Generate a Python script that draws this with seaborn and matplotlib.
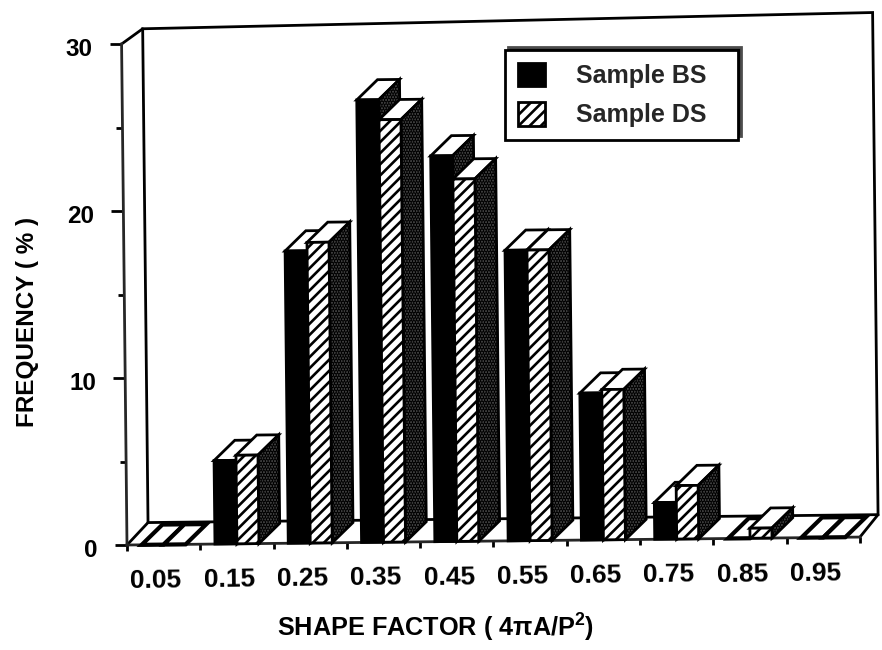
import matplotlib
matplotlib.use("Agg")
import matplotlib.pyplot as plt
import pandas as pd
import seaborn as sns
from matplotlib.patches import Polygon
from matplotlib.transforms import Affine2D

# Values
shape_bins = ["0.05", "0.15", "0.25", "0.35", "0.45", "0.55", "0.65", "0.75", "0.85", "0.95"]
sample_bs = [0, 5.0, 17.5, 26.5, 23.1, 17.4, 8.8, 2.2, 0, 0]
sample_ds = [0, 5.3, 18.0, 25.3, 21.7, 17.4, 9.0, 3.2, 0.6, 0]
y_ticks = [0, 10, 20, 30]
y_minor_ticks = [5, 15, 25]

sns.set_theme(style="ticks")
plt.rcParams["font.family"] = ["Liberation Sans", "DejaVu Sans"]
plt.rcParams["font.weight"] = "bold"
plt.rcParams["hatch.linewidth"] = 1.9
plt.rcParams["mathtext.fontset"] = "custom"
plt.rcParams["mathtext.rm"] = "Liberation Sans:bold"
plt.rcParams["mathtext.it"] = "Liberation Sans:bold"
plt.rcParams["mathtext.bf"] = "Liberation Sans:bold"

df = pd.DataFrame({
    "shape": shape_bins * 2,
    "freq": sample_bs + sample_ds,
    "sample": ["Sample BS"] * len(shape_bins) + ["Sample DS"] * len(shape_bins),
})

fig = plt.figure(figsize=(8.82, 6.5), dpi=100)
ax = fig.add_axes([127 / 882, 105 / 650, 733 / 882, 501 / 650])
ax.patch.set_visible(False)

sns.barplot(data=df, x="shape", y="freq", hue="sample", order=shape_bins,
            palette=["black", "white"], width=0.6, gap=0, saturation=1,
            legend=False, ax=ax)
ax.set_xlim(-0.5, 9.5)
ax.set_ylim(0, 30)
ax.set_yticks(y_ticks)
ax.set_yticks(y_minor_ticks, minor=True)
ax.set_xticks([i - 0.5 for i in range(len(shape_bins) + 1)], minor=True)

# 3-D look: depth of the bars and of the chart box, in data units
depth_x, depth_y = 0.286, 1.2
back_x, floor_y = -0.5 + 0.29, 1.33
lw = 2.0

# back wall and floor of the box
wall = [(back_x, floor_y), (back_x, 30.9), (9.75, 31.4), (9.75, floor_y)]
ax.add_patch(Polygon(wall, closed=True, fill=False, ec="black", lw=lw, zorder=1, clip_on=False))
ax.plot([-0.5, back_x], [0, floor_y], color="black", lw=lw, zorder=1, clip_on=False)
ax.plot([-0.5, back_x], [30, 30.9], color="black", lw=lw, zorder=1, clip_on=False)
ax.plot([9.5, 9.75], [0, floor_y], color="black", lw=lw, zorder=1, clip_on=False)

# front faces come from seaborn, the top and side faces are built on them
for n, bars in enumerate(ax.containers):
    z = 3 + n
    for bar in bars:
        x0, w, h = bar.get_x(), bar.get_width(), bar.get_height()
        x1 = x0 + w
        bar.set(edgecolor="black", linewidth=lw, zorder=z + 0.2, clip_on=False)
        if n == 1:
            bar.set_hatch("///")
        top = [(x0, h), (x1, h), (x1 + depth_x, h + depth_y), (x0 + depth_x, h + depth_y)]
        ax.add_patch(Polygon(top, closed=True, fc="white", ec="black", lw=lw if h > 0 else 3,
                             zorder=z + 0.1, clip_on=False))
        if h > 0:
            side = [(x1, 0), (x1, h), (x1 + depth_x, h + depth_y), (x1 + depth_x, depth_y)]
            ax.add_patch(Polygon(side, closed=True, fc="#4a4a4a", ec="black", lw=lw,
                                 hatch="......", zorder=z + 0.1, clip_on=False))

sns.despine(ax=ax)
ax.spines["left"].set_linewidth(lw)
ax.spines["bottom"].set_linewidth(lw)
ax.tick_params(axis="y", which="major", length=8.5, width=lw, color="black",
               labelsize=17.5, pad=12.5, labelcolor="black")
ax.tick_params(axis="y", which="minor", length=4, width=lw, color="black")
ax.tick_params(axis="x", which="major", length=0, labelsize=19, pad=17, labelcolor="black")
ax.tick_params(axis="x", which="minor", length=4, width=lw, color="black")
ax.set_xlabel("SHAPE FACTOR ( 4πA/P$^{2}$)", fontsize=18.2, fontweight="bold", color="black",
              x=0.42, labelpad=16)
ax.set_ylabel("FREQUENCY ( % )", fontsize=17.5, fontweight="bold", color="black",
              y=0.447, labelpad=17)

# the page was scanned slightly crooked, so turn everything about the origin
fig.canvas.draw()
tilt = Affine2D().rotate_deg_around(127, 105, 0.62)
for art in ax.patches + ax.lines + list(ax.spines.values()):
    art.set_transform(art.get_data_transform() + tilt if hasattr(art, "get_patch_transform")
                      else art.get_transform() + tilt)
for tick in ax.xaxis.get_major_ticks():
    tick.label1.set_transform(tick.label1.get_transform() + Affine2D().translate(-8, 0) + tilt)
    tick.label1.set_transform_rotates_text(True)
for tick in ax.xaxis.get_minor_ticks() + ax.yaxis.get_minor_ticks():
    tick.tick1line.set_transform(tick.tick1line.get_transform() + tilt)
for tick in ax.yaxis.get_major_ticks():
    tick.tick1line.set_transform(tick.tick1line.get_transform() + tilt)
    tick.label1.set_transform(tick.label1.get_transform() + Affine2D().translate(0, -3) + tilt)
for label in [ax.xaxis.label, ax.yaxis.label]:
    label.set_transform(label.get_transform() + tilt)

leg = ax.legend(ax.containers, ["Sample BS", "Sample DS"], loc="upper left",
                bbox_to_anchor=((505 - 127) / 733, (545 - 140) / 501, 233 / 733, 90 / 501),
                borderaxespad=0, mode="expand",
                fontsize=18, frameon=True, fancybox=False, framealpha=1, edgecolor="black",
                shadow={"ox": 2.5, "oy": 2.5, "alpha": 1, "facecolor": "black"},
                handlelength=1.08, handleheight=1.08, handletextpad=1.24,
                labelspacing=0.56, borderpad=0.5)
leg.get_frame().set_linewidth(lw)
leg.set_zorder(10)

fig.savefig("out.png", dpi=100)
plt.close(fig)
